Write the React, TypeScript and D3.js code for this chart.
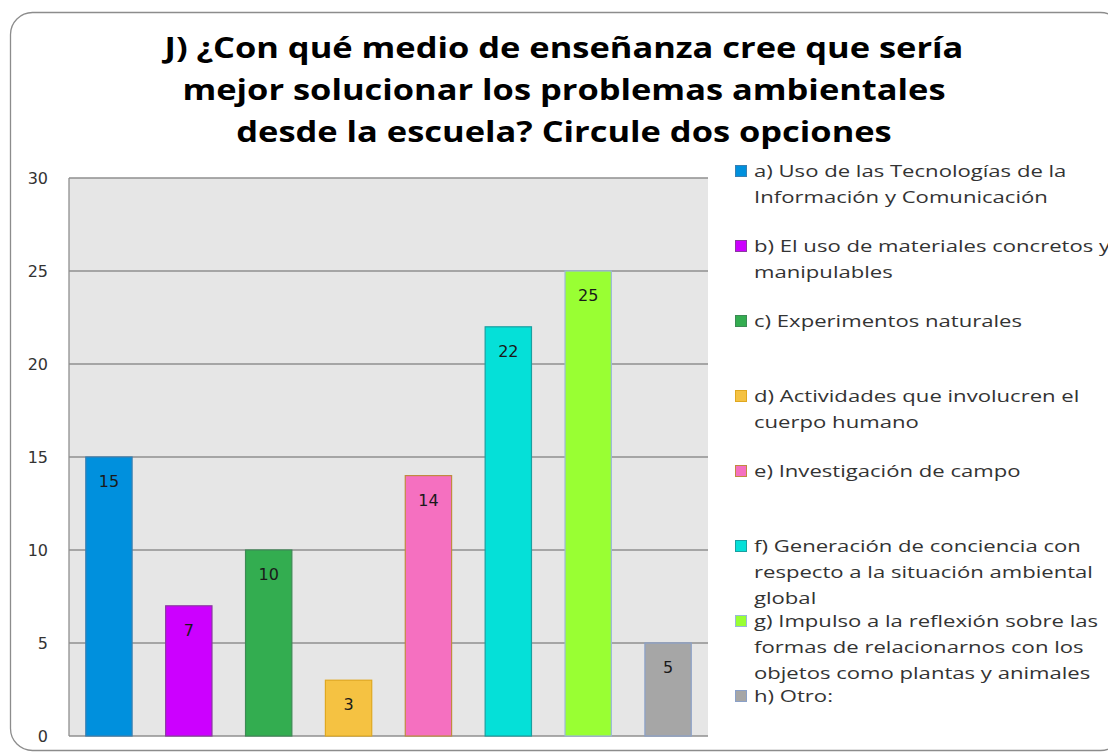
import React from "react";
import * as d3 from "d3";

const categories = ["a", "b", "c", "d", "e", "f", "g", "h"];
const values = [15, 7, 10, 3, 14, 22, 25, 5];
const fillColors = ["#0090dd", "#cc00ff", "#33ad50", "#f5c242", "#f570c0", "#05e0d8", "#99ff33", "#a6a6a6"];
const strokeColors = ["#3b7fb0", "#8a3aa0", "#3d8a55", "#e0a820", "#c08a40", "#1a9fa0", "#9ab8d8", "#8aa0c8"];
const legendLines = [
  ["a) Uso de las Tecnologías de la", "Información y Comunicación"],
  ["b) El uso de materiales concretos y", "manipulables"],
  ["c) Experimentos naturales"],
  ["d) Actividades que involucren el", "cuerpo humano"],
  ["e) Investigación de campo"],
  ["f) Generación de conciencia con", "respecto a la situación ambiental", "global"],
  ["g) Impulso a la reflexión sobre las", "formas de relacionarnos con los", "objetos como plantas y animales"],
  ["h) Otro:"],
];
const titleLines = [
  "J) ¿Con qué medio de enseñanza cree que sería",
  "mejor solucionar los problemas ambientales",
  "desde la escuela? Circule dos opciones",
];
const yTicks = [0, 5, 10, 15, 20, 25, 30];

export default function App() {
  const W = 1108, H = 754;
  const plot = { left: 69, right: 708, top: 178, bottom: 736 };
  const x = d3.scaleBand<string>().domain(categories).range([plot.left, plot.right]).paddingInner(0.42).paddingOuter(0.21);
  const y = d3.scaleLinear().domain([0, 30]).range([plot.bottom, plot.top]);
  const legendFont = "'Open Sans', sans-serif";
  return (
    <svg width={W} height={H} style={{ position: "absolute", left: 0, top: 0 }}>
      <rect x={0} y={0} width={W} height={H} fill="#fff" />
      <rect x={10.5} y={12.5} width={1112} height={738} rx={22} fill="#fff" stroke="#8c8c8c" strokeWidth={1.3} />
      <g transform="translate(564,0) scale(1.23,1)" fontFamily="'Open Sans', sans-serif" fontWeight="bold" fontSize={28} fill="#000" textAnchor="middle">
        {titleLines.map((t, i) => (
          <text key={i} x={0} y={58 + i * 42}>{t}</text>
        ))}
      </g>
      <rect x={plot.left} y={plot.top} width={plot.right - plot.left} height={plot.bottom - plot.top} fill="#e6e6e6" />
      {yTicks.map((t) => (
        <g key={t}>
          <line x1={plot.left} x2={plot.right} y1={y(t)} y2={y(t)} stroke="#8f8f8f" strokeWidth={1.3} />
          <text x={48} y={y(t)} dy="0.36em" textAnchor="end" fontFamily="'DejaVu Sans', sans-serif" fontSize={16} fill="#333">{t}</text>
        </g>
      ))}
      <line x1={plot.left} x2={plot.left} y1={plot.top} y2={plot.bottom} stroke="#8f8f8f" strokeWidth={1.3} />
      {categories.map((c, i) => (
        <g key={c}>
          <rect x={x(c)!} y={y(values[i])} width={x.bandwidth()} height={y(0) - y(values[i])} fill={fillColors[i]} stroke={strokeColors[i]} strokeWidth={1.2} />
          <text x={x(c)! + x.bandwidth() / 2} y={y(values[i]) + 30} textAnchor="middle" fontFamily="'DejaVu Sans', sans-serif" fontSize={16} fill="#1a1a1a">{values[i]}</text>
        </g>
      ))}
      {legendLines.map((lines, i) => {
        const cy = 171 + i * 75;
        return (
          <g key={i}>
            <rect x={735.5} y={cy - 5.5} width={11} height={11} fill={fillColors[i]} stroke={strokeColors[i]} strokeWidth={1} />
            <g transform={`translate(754,0) scale(1.3,1)`} fontFamily={legendFont} fontSize={17} fill="#333">
              {lines.map((l, j) => (
                <text key={j} x={0} y={cy + j * 26} dy="0.35em">{l}</text>
              ))}
            </g>
          </g>
        );
      })}
    </svg>
  );
}
